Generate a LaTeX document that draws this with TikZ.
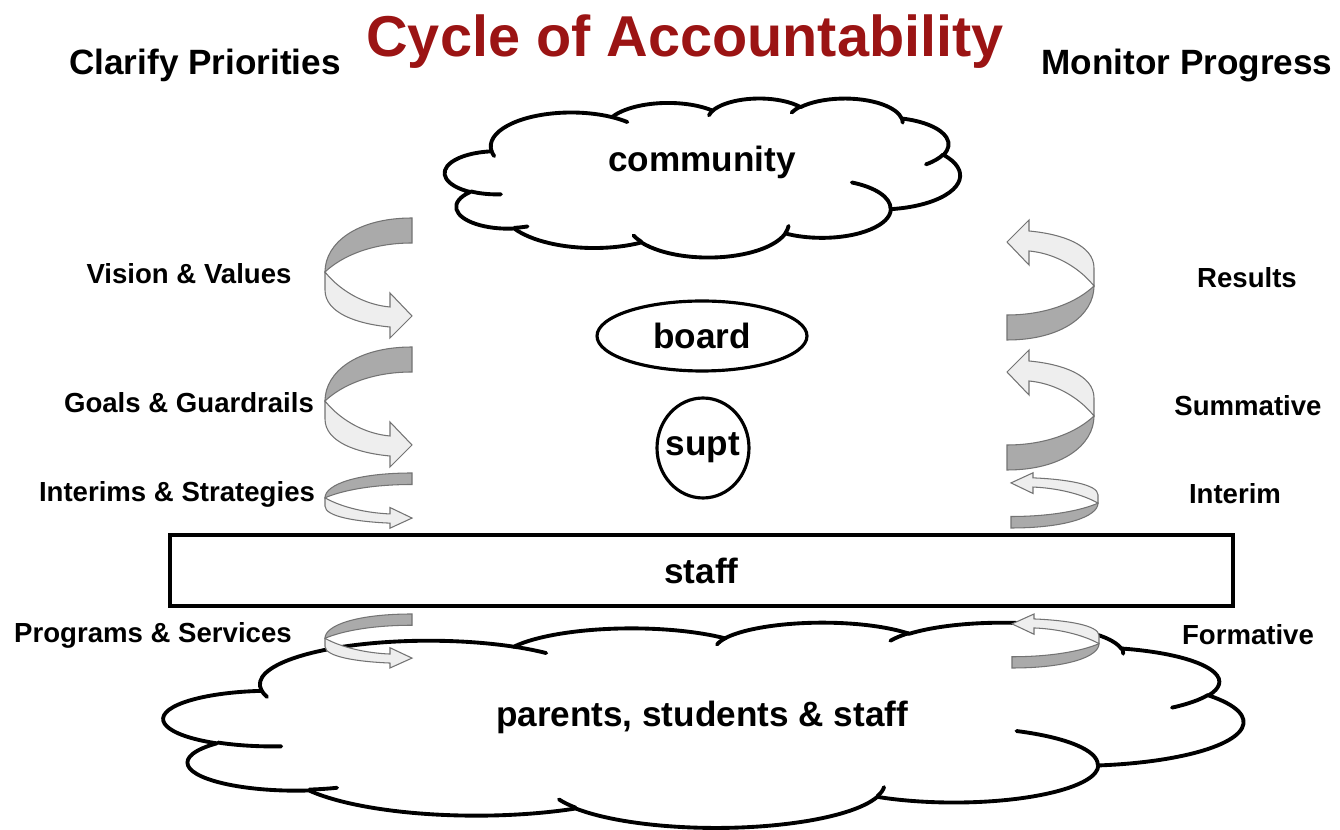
\documentclass[tikz,border=0pt]{standalone}
\usepackage{fontspec}
\setmainfont{Liberation Sans}
\usetikzlibrary{shapes.geometric}
\definecolor{titlered}{RGB}{155,20,20}
\definecolor{banddark}{RGB}{170,170,170}
\definecolor{bandlight}{RGB}{238,238,238}
\definecolor{bandline}{RGB}{115,115,115}
\def\largeur{1340}
\def\hauteur{830}
% one puff of the cloud: x radius, y radius, start, sweep (seen angles)
\newcommand\puff[4]{%
  \pgfextra{%
    \pgfmathsetmacro\ts{atan2(#1*sin(#3), #2*cos(#3))}%
    \pgfmathsetmacro\te{atan2(#1*sin(#3+#4), #2*cos(#3+#4))}%
    \pgfmathsetmacro\te{\ts + mod(\te - \ts + 720, 360)}%
  }
  arc[start angle=\ts, end angle=\te, x radius=#1, y radius=#2]
}

\tikzset{
  big/.style={font=\fontsize{20}{24}\selectfont\bfseries},
  small/.style={font=\fontsize{15.7}{19}\selectfont\bfseries},
  heavy/.style={draw, line width=2.2pt},
  twist/.pic={
    \filldraw[fill=banddark, draw=bandline, line width=0.6pt]
      (0,0) .. controls (-55,0) and (-87,25) .. (-87,54)
      .. controls (-70,38) and (-40,25) .. (0,25) -- cycle;
    \filldraw[fill=bandlight, draw=bandline, line width=0.6pt]
      (-87,54) .. controls (-70,75) and (-45,87) .. (-22,89)
      -- (-22,75) -- (0,98) -- (-22,120) -- (-22,109)
      .. controls (-55,106) and (-87,95) .. (-87,72) -- cycle;
  },
  % cloud in a 43.2 x 43.2 box, top left corner at the pic origin
  cloudpic/.pic={
    \draw[line width=2.2pt, fill=white, line join=round] (3.900,14.370)
      \puff{6.753}{9.190}{-190.4875}{123.7805}
      \puff{5.333}{7.267}{-144.1024}{89.9452}
      \puff{4.365}{5.945}{-145.8079}{99.7230}
      \puff{4.857}{6.595}{-130.9861}{117.2417}
      \puff{5.333}{7.273}{-78.7089}{109.0269}
      \puff{6.775}{9.220}{-46.2673}{130.2690}
      \puff{5.785}{7.867}{0.6250}{114.0333}
      \puff{6.752}{9.215}{22.4516}{115.1726}
      \puff{7.720}{10.543}{66.2426}{75.7110}
      \puff{4.360}{5.918}{-274.9421}{146.7356}
      \puff{4.345}{5.945}{-246.8285}{152.5189} -- cycle;
    \draw[line width=2.2pt, line cap=round]
      (4.693,26.177) \puff{4.345}{5.945}{86.742}{26.4295}
      (6.928,34.899) \puff{4.360}{5.918}{73.6105}{11.4475}
      (16.478,39.090) \puff{6.752}{9.215}{137.6242}{14.0811}
      (28.827,34.751) \puff{6.752}{9.215}{6.4533}{15.9984}
      (34.129,22.954) \puff{5.785}{7.867}{-70.2924}{70.9174}
      (41.798,15.354) \puff{5.333}{7.273}{30.3180}{27.7515}
      (38.324,5.426) \puff{4.857}{6.595}{-13.7443}{14.8589}
      (29.078,3.952) \puff{4.857}{6.595}{-149.1815}{18.1954}
      (22.141,4.720) \puff{4.365}{5.945}{-163.4943}{17.6864}
      (14.000,5.192) \puff{6.753}{9.190}{-66.7070}{12.3194}
      (4.127,15.789) \puff{6.753}{9.190}{157.6544}{11.8582};
  }
}

\begin{document}
\begin{tikzpicture}[x=0.02cm, y=-0.02cm]
\useasboundingbox (0,0) rectangle (\largeur,\hauteur);
%\draw[step=100, black!20] (0,0) grid (\largeur,\hauteur);
    % titles
    \node[anchor=base, text=titlered, font=\fontsize{32.8}{36}\selectfont\bfseries] (title) at (685,57) {Cycle of Accountability};
    \node[anchor=base, big] (clarify) at (205,75) {Clarify Priorities};
    \node[anchor=base, big] (monitor) at (1187,75) {Monitor Progress};
    % clouds, ellipses, staff bar
    \pic[xscale=11.92, yscale=3.68] at (445,98) {cloudpic};
    \node[anchor=base, big] (community) at (702,172) {community};
    \node[ellipse, heavy, line width=1.8pt, minimum width=4.2cm, minimum height=1.4cm, big] (board) at (702,336) {board};
    \node[ellipse, heavy, line width=1.8pt, minimum width=1.84cm, minimum height=2cm, inner xsep=-3pt, inner ysep=0pt, big] (supt) at (703,448) {supt};
    \node[rectangle, heavy, minimum width=21.26cm, minimum height=1.42cm, big] (staff) at (701.5,570.5) {staff};
    \pic[xscale=24.98, yscale=4.75] at (164,622) {cloudpic};
    \node[big] (parents) at (702,717) {parents, students \& staff};
    % left arrows
    \pic at (412,218) {twist};
    \pic at (412,347) {twist};
    \pic[yscale=0.46] at (412,473) {twist};
    \pic[yscale=0.45] at (412,614) {twist};
    % right arrows
    \pic[rotate=180] at (1007,340) {twist};
    \pic[rotate=180] at (1007,470) {twist};
    \pic[rotate=180, yscale=0.46] at (1011,528) {twist};
    \pic[rotate=180, yscale=0.45] at (1012,668) {twist};
    % left labels
    \node[small] (vision) at (189,274) {Vision \& Values};
    \node[small] (goals) at (189,403) {Goals \& Guardrails};
    \node[small] (interims) at (177,494) {Interims \& Strategies};
    \node[small] (programs) at (153,635) {Programs \& Services};
    % right labels
    \node[small] (results) at (1247,278) {Results};
    \node[small] (summative) at (1248,406) {Summative};
    \node[small] (interim) at (1235,494) {Interim};
    \node[small] (formative) at (1248,635) {Formative};
\end{tikzpicture}
\end{document}
